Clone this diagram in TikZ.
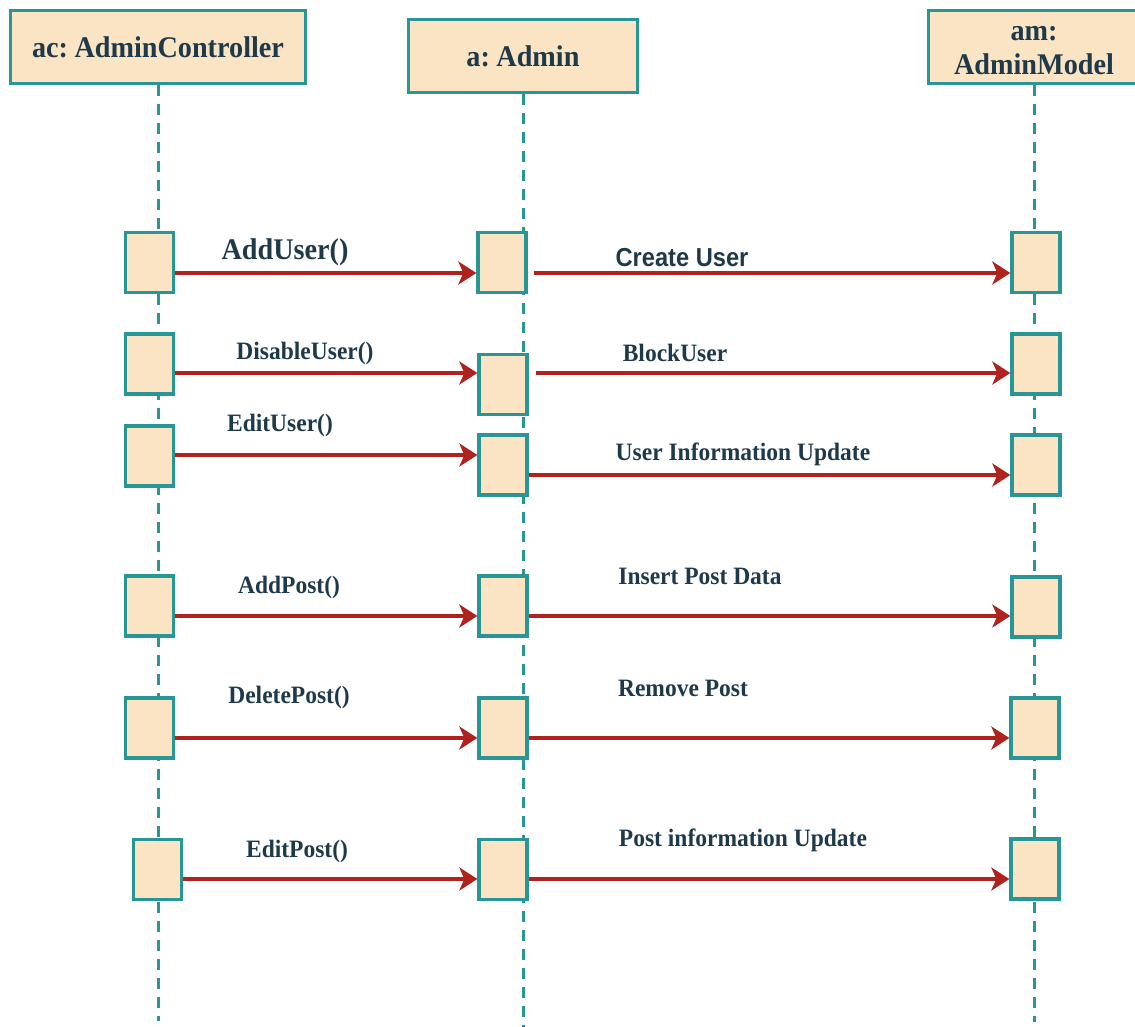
\documentclass[tikz,border=0pt]{standalone}
\usepackage{fontspec}
\setmainfont{Liberation Serif}[FakeStretch=0.94]
\newfontfamily\sansfam{Liberation Sans}[FakeStretch=0.91]
\usetikzlibrary{arrows.meta}
\definecolor{tealline}{RGB}{40,150,148}
\definecolor{boxfill}{RGB}{250,228,196}
\definecolor{txtcol}{RGB}{30,58,74}
\definecolor{msgred}{RGB}{176,34,30}
\tikzset{
  header/.style={draw=tealline, fill=boxfill, line width=3.3pt, inner sep=0pt,
    minimum height=73pt, text=txtcol, font=\fontsize{30}{34}\selectfont\bfseries, align=center},
  actbox/.style={draw=tealline, fill=boxfill, line width=3.3pt, inner sep=0pt,
    minimum width=48pt, minimum height=60pt},
  life/.style={draw=tealline, line width=3pt, dash pattern=on 11pt off 8pt},
  msg/.style={draw=msgred, line width=3.4pt, -{Stealth[length=18pt,width=23pt,inset=5pt]}},
  lbl/.style={text=txtcol, inner sep=0pt, font=\fontsize{25}{28}\selectfont\bfseries},
  biglbl/.style={text=txtcol, inner sep=0pt, font=\fontsize{30}{33}\selectfont\bfseries},
  sanslbl/.style={text=txtcol, inner sep=0pt, font=\fontsize{26}{29}\selectfont\sansfam\bfseries}
}
\begin{document}
\begin{tikzpicture}[x=1pt,y=-1pt]
\useasboundingbox (0,0) rectangle (1135,1027);

% lifeline end points
\coordinate (endac) at (158,1021);
\coordinate (enda) at (523,1027);
\coordinate (endam) at (1034,1022);

% header positions
\path (158,47) coordinate (phac);
\path (523,56) coordinate (pha);
\path (1034,47) coordinate (pham);

\draw[life] (phac) -- (endac);
\draw[life] (pha) -- (enda);
\draw[life] (pham) -- (endam);

\node[header, minimum width=295pt] (hac) at (phac) {ac:\hspace{6.5pt}AdminController};
\node[header, minimum width=229pt] (ha) at (pha) {a:\hspace{6.5pt}Admin};
\node[header, minimum width=211pt] (ham) at (pham) {\rule{0pt}{22pt}am:\\AdminModel};

% activation boxes
\node[actbox] (ac1) at (149.5,262.5) {};
\node[actbox] (a1)  at (502,262.5) {};
\node[actbox] (am1) at (1036,262.5) {};

\node[actbox] (ac2) at (149.5,364) {};
\node[actbox] (a2)  at (503,384.5) {};
\node[actbox] (am2) at (1036,364) {};

\node[actbox] (ac3) at (149.5,456) {};
\node[actbox] (a3)  at (503,465) {};
\node[actbox] (am3) at (1036,465) {};

\node[actbox] (ac4) at (149.5,606) {};
\node[actbox] (a4)  at (503,606) {};
\node[actbox] (am4) at (1036,607) {};

\node[actbox] (ac5) at (149.5,728) {};
\node[actbox] (a5)  at (503,728) {};
\node[actbox] (am5) at (1035,728) {};

\node[actbox] (ac6) at (157.5,869.5) {};
\node[actbox] (a6)  at (503,869.5) {};
\node[actbox] (am6) at (1035,869) {};

% message levels
\coordinate (y1) at (0,273);
\coordinate (y2) at (0,373);
\coordinate (y3) at (0,455);
\coordinate (y3b) at (0,475);
\coordinate (y4) at (0,616);
\coordinate (y5) at (0,738);
\coordinate (y6) at (0,879);

% messages
\draw[msg] (ac1.east |- y1) -- (a1.west |- y1);
\draw[msg] ([xshift=6pt]a1.east |- y1) -- (am1.west |- y1);

\draw[msg] (ac2.east |- y2) -- (a2.west |- y2);
\draw[msg] ([xshift=7pt]a2.east |- y2) -- (am2.west |- y2);

\draw[msg] (ac3.east |- y3) -- (a3.west |- y3);
\draw[msg] (a3.east |- y3b) -- (am3.west |- y3b);

\draw[msg] (ac4.east |- y4) -- (a4.west |- y4);
\draw[msg] (a4.east |- y4) -- (am4.west |- y4);

\draw[msg] (ac5.east |- y5) -- (a5.west |- y5);
\draw[msg] (a5.east |- y5) -- (am5.west |- y5);

\draw[msg] (ac6.east |- y6) -- (a6.west |- y6);
\draw[msg] (a6.east |- y6) -- (am6.west |- y6);

% labels
\node[biglbl] (l1) at (285,252) {AddUser()};
\node[sanslbl] (l2) at (682,258) {Create User};
\node[lbl] (l3) at (305,353) {DisableUser()};
\node[lbl] (l4) at (675,353) {BlockUser};
\node[lbl] (l5) at (280,425) {EditUser()};
\node[lbl] (l6) at (743,454) {User Information Update};
\node[lbl] (l7) at (289,587) {AddPost()};
\node[lbl] (l8) at (700,576) {Insert Post Data};
\node[lbl] (l9) at (289,697) {DeletePost()};
\node[lbl] (l10) at (683,688) {Remove Post};
\node[lbl] (l11) at (297,851) {EditPost()};
\node[lbl] (l12) at (743,840) {Post information Update};
\end{tikzpicture}
\end{document}
